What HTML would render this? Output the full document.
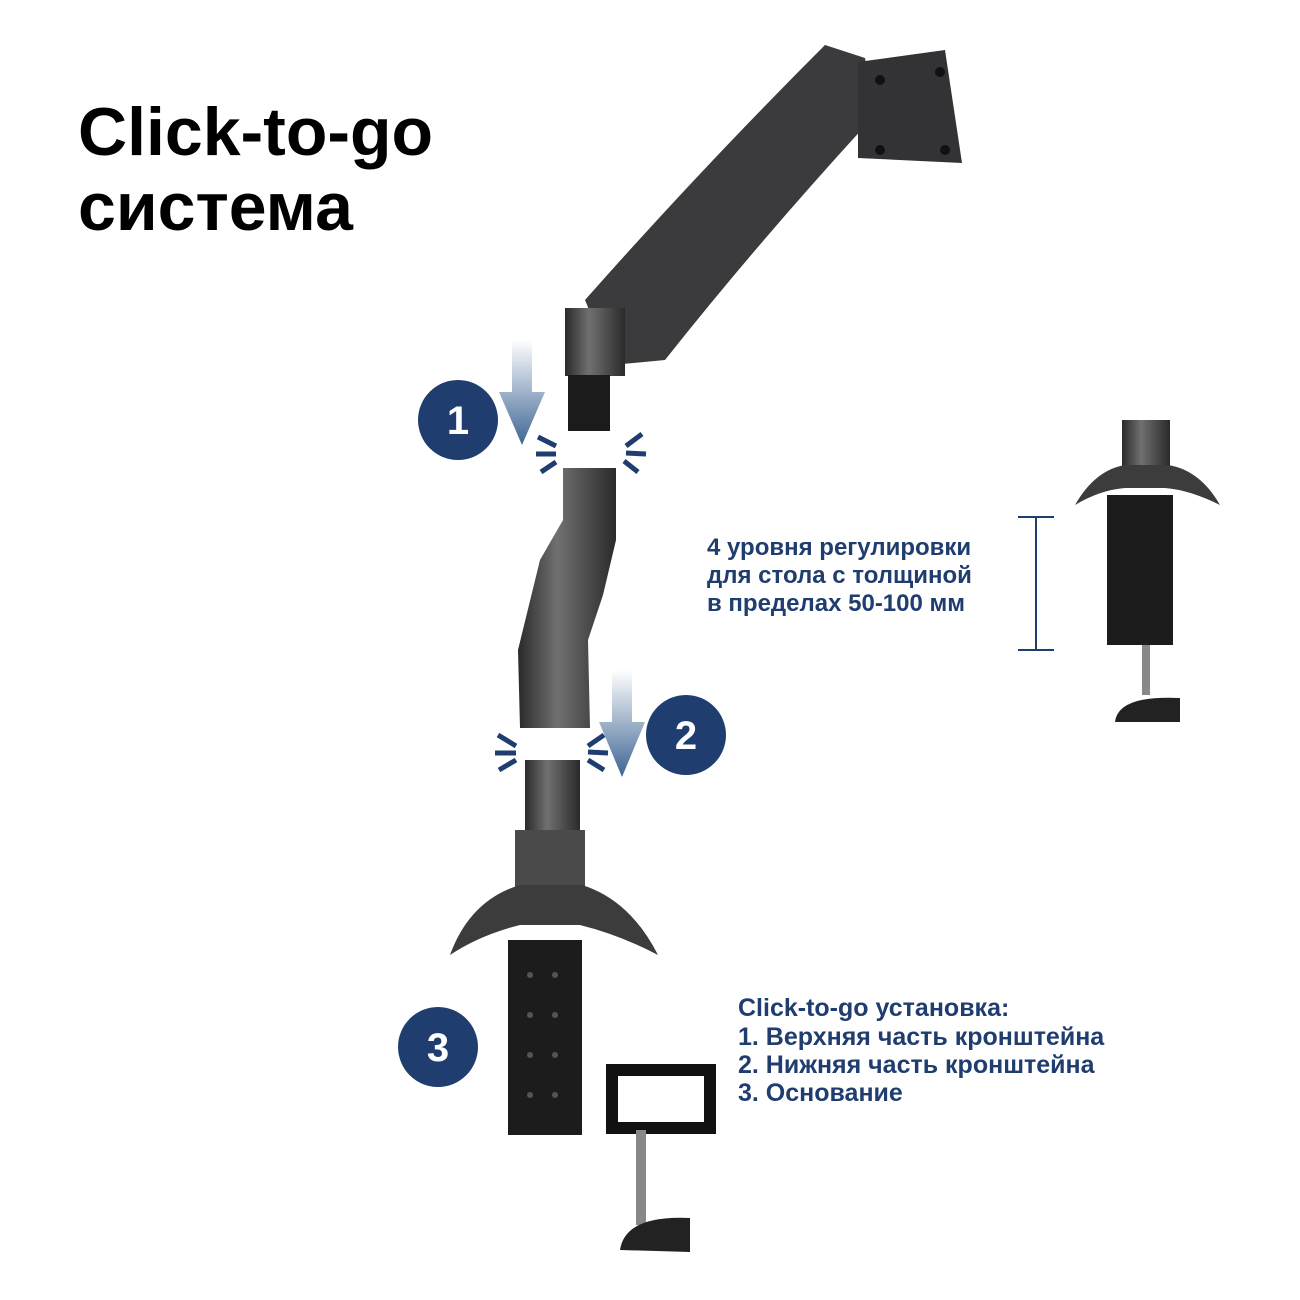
<!DOCTYPE html>
<html><head><meta charset="utf-8"><style>
body{margin:0;background:#fff;width:1300px;height:1300px;overflow:hidden;font-family:"Liberation Sans",sans-serif}
svg{position:absolute;left:0;top:0}
</style></head><body>
<svg width="1300" height="1300" viewBox="0 0 1300 1300">
<defs>
<linearGradient id="ar" x1="0" y1="0" x2="0" y2="1"><stop offset="0" stop-color="#fff"/><stop offset="1" stop-color="#3d6594"/></linearGradient>
<linearGradient id="met" x1="0" y1="0" x2="1" y2="0"><stop offset="0" stop-color="#2a2a2a"/><stop offset="0.4" stop-color="#707070"/><stop offset="1" stop-color="#2a2a2a"/></linearGradient>
</defs>
<text x="78" y="155" font-size="68" font-weight="bold" fill="#000">Click-to-go</text>
<text x="78" y="230" font-size="68" font-weight="bold" fill="#000">система</text>
<!-- upper arm -->
<path d="M585,300 Q700,170 825,45 L865,58 L875,115 Q760,240 665,360 L612,365Z" fill="#3b3b3d"/>
<polygon points="858,62 945,50 962,163 858,158" fill="#333335"/>
<g fill="#111"><circle cx="880" cy="80" r="5"/><circle cx="940" cy="72" r="5"/><circle cx="880" cy="150" r="5"/><circle cx="945" cy="150" r="5"/></g>
<rect x="565" y="308" width="60" height="68" fill="url(#met)"/>
<rect x="568" y="375" width="42" height="56" fill="#1b1b1b"/>
<!-- arrows -->
<polygon points="512,340 532,340 532,392 545,392 522,445 499,392 512,392" fill="url(#ar)"/>
<polygon points="612,670 632,670 632,722 645,722 622,777 599,722 612,722" fill="url(#ar)"/>
<g stroke="#1f3d6e" stroke-width="5">
<line x1="538" y1="437" x2="556" y2="446"/><line x1="536" y1="454" x2="556" y2="454"/><line x1="541" y1="472" x2="556" y2="462"/>
<line x1="642" y1="434" x2="626" y2="446"/><line x1="646" y1="454" x2="626" y2="453"/><line x1="638" y1="472" x2="624" y2="461"/>
<line x1="498" y1="735" x2="516" y2="746"/><line x1="495" y1="753" x2="516" y2="753"/><line x1="499" y1="770" x2="516" y2="760"/>
<line x1="604" y1="735" x2="588" y2="746"/><line x1="608" y1="753" x2="588" y2="752"/><line x1="604" y1="770" x2="588" y2="760"/>
</g>
<!-- middle arm -->
<polygon points="563,468 616,468 616,540 603,595 588,640 590,728 520,728 518,650 540,560 563,520" fill="url(#met)"/>
<!-- lower -->
<rect x="525" y="760" width="55" height="72" fill="url(#met)"/>
<rect x="515" y="830" width="70" height="62" fill="#4a4a4a"/>
<path d="M450,955 Q470,900 520,885 L582,885 Q630,900 658,955 Q620,935 580,925 L520,925 Q480,935 450,955Z" fill="#3c3c3c"/>
<rect x="508" y="940" width="74" height="195" fill="#1c1c1c"/>
<g fill="#555"><circle cx="530" cy="975" r="3"/><circle cx="555" cy="975" r="3"/><circle cx="530" cy="1015" r="3"/><circle cx="555" cy="1015" r="3"/><circle cx="530" cy="1055" r="3"/><circle cx="555" cy="1055" r="3"/><circle cx="530" cy="1095" r="3"/><circle cx="555" cy="1095" r="3"/></g>
<rect x="612" y="1070" width="98" height="58" fill="none" stroke="#111" stroke-width="12"/>
<rect x="636" y="1130" width="10" height="95" fill="#888"/>
<path d="M620,1250 Q625,1215 690,1218 L690,1252Z" fill="#222"/>
<!-- right clamp -->
<rect x="1122" y="420" width="48" height="50" fill="url(#met)"/>
<path d="M1075,505 Q1095,470 1125,465 L1168,465 Q1200,470 1220,505 Q1190,490 1165,488 L1125,488 Q1100,490 1075,505Z" fill="#3c3c3c"/>
<rect x="1107" y="495" width="66" height="150" fill="#1c1c1c"/>
<rect x="1142" y="645" width="8" height="50" fill="#888"/>
<path d="M1115,722 Q1118,695 1180,698 L1180,722Z" fill="#222"/>
<!-- circles -->
<g font-size="40" font-weight="bold" fill="#fff" text-anchor="middle">
<circle cx="458" cy="420" r="40" fill="#1f3d6e"/><text x="458" y="434">1</text>
<circle cx="686" cy="735" r="40" fill="#1f3d6e"/><text x="686" y="749">2</text>
<circle cx="438" cy="1047" r="40" fill="#1f3d6e"/><text x="438" y="1061">3</text>
</g>
<g fill="#1f3d6e" font-weight="bold" font-size="24">
<text x="707" y="555">4 уровня регулировки</text>
<text x="707" y="583">для стола с толщиной</text>
<text x="707" y="611">в пределах 50-100 мм</text>
</g>
<g stroke="#1f3d6e" stroke-width="2"><line x1="1036" y1="517" x2="1036" y2="650"/><line x1="1018" y1="517" x2="1054" y2="517"/><line x1="1018" y1="650" x2="1054" y2="650"/></g>
<g fill="#1f3d6e" font-weight="bold" font-size="25">
<text x="738" y="1016">Click-to-go установка:</text>
<text x="738" y="1045">1. Верхняя часть кронштейна</text>
<text x="738" y="1073">2. Нижняя часть кронштейна</text>
<text x="738" y="1101">3. Основание</text>
</g>
</svg>
</body></html>
